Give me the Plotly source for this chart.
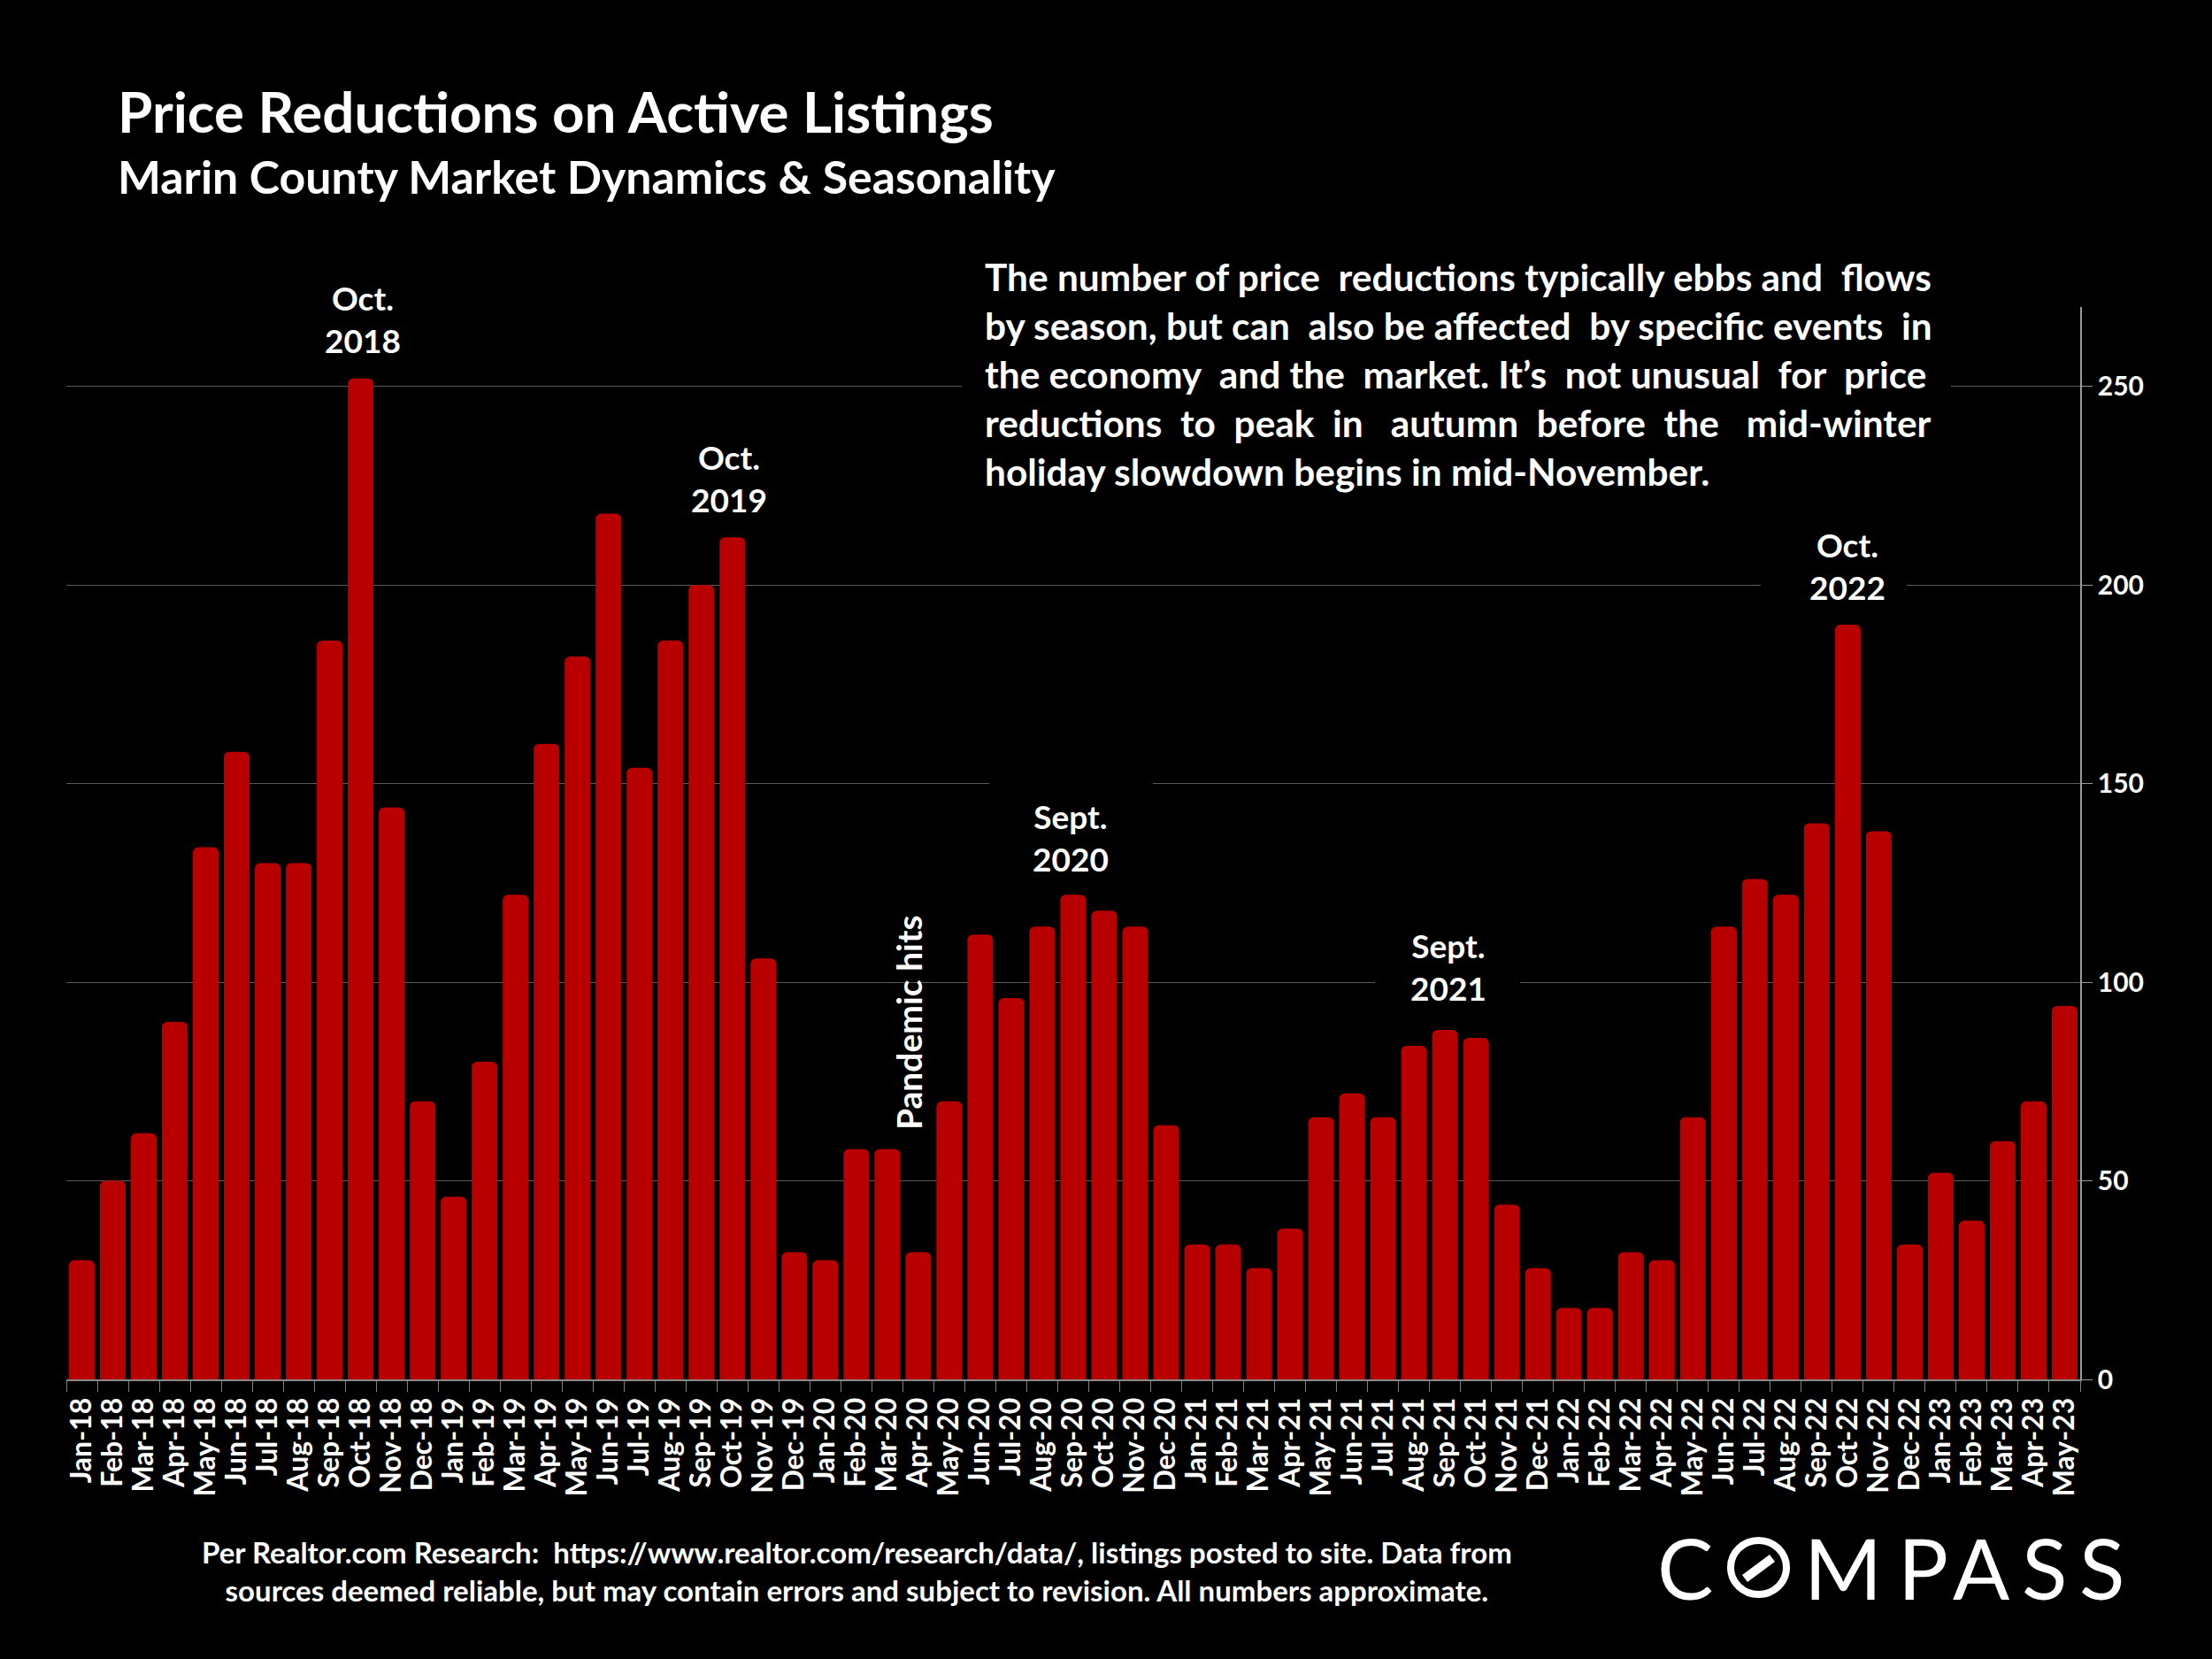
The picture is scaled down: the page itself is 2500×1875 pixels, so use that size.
import plotly.graph_objects as go

months = ["Jan", "Feb", "Mar", "Apr", "May", "Jun", "Jul", "Aug", "Sep", "Oct", "Nov", "Dec"]
categories = [f"{m}-{y}" for y in ["18", "19", "20", "21", "22"] for m in months]
categories += [f"{m}-23" for m in months[:5]]

price_reductions = [
    30, 50, 62, 90, 134, 158, 130, 130, 186, 252, 144, 70,
    46, 80, 122, 160, 182, 218, 154, 186, 200, 212, 106, 32,
    30, 58, 58, 32, 70, 112, 96, 114, 122, 118, 114, 64,
    34, 34, 28, 38, 66, 72, 66, 84, 88, 86, 44, 28,
    18, 18, 32, 30, 66, 114, 126, 122, 140, 190, 138, 34,
    52, 40, 60, 70, 94,
]
y_ticks = [0, 50, 100, 150, 200, 250]

# gridline value, left and right pixel of the part hidden behind text boxes
grid_gaps = [
    (250, 1087, 2205),
    (200, 1990, 2155),
    (150, 1118, 1303),
    (100, 1554, 1718),
]

note_lines = [
    ("The number of price reductions typically ebbs and flows", 2),
    ("by season, but can also be affected by specific events in", 3),
    ("the economy and the market. It’s not unusual for price", 5),
    ("reductions to peak in autumn before the mid-winter", 9),
    ("holiday slowdown begins in mid-November.", 0),
]

FONT = "Lato"
W, H = 2500, 1875
L, R, T, B = 75, 2351, 347, 1559


# pixel position on the page -> paper coords
def px(x):
    return (x - L) / (R - L)


def py(y):
    return (B - y) / (B - T)


# pixel -> position on the category axis, paper shapes can't go in the between layer
def cat_x(x):
    return px(x) * len(categories) - 0.5


# no justify in svg text, so pad the gaps with extra nbsp
def justify(line, extra):
    words = line.split(" ")
    gaps = len(words) - 1
    out = words[0]
    for i, word in enumerate(words[1:]):
        n = (extra * (i + 1)) // gaps - (extra * i) // gaps
        out += " " + "\u00a0" * n + word
    return out


fig = go.Figure(go.Bar(
    x=categories,
    y=price_reductions,
    marker=dict(color="#B80000", cornerradius=6, line_width=0),
))

fig.update_layout(
    width=W, height=H,
    margin=dict(l=L, r=W - R, t=T, b=H - B, pad=0),
    paper_bgcolor="black", plot_bgcolor="black",
    bargap=0.17, showlegend=False,
    font=dict(family=FONT, color="white"),
)
fig.update_xaxes(
    type="category", categoryorder="array", categoryarray=categories,
    tickmode="array", tickvals=categories, ticktext=categories,
    tickson="boundaries", tickangle=-90, ticks="outside", ticklen=12, tickwidth=1,
    ticklabelstandoff=6,
    tickcolor="#808080", showline=True, linecolor="#8a8a8a", linewidth=2, showgrid=False,
    tickfont=dict(family=FONT, size=32, color="white", weight=700),
)
fig.update_yaxes(
    side="right", range=[0, 270], tickmode="array", tickvals=y_ticks,
    ticks="outside", ticklen=12, tickwidth=1, tickcolor="#999999",
    showline=True, linecolor="#999999", linewidth=1.5,
    showgrid=True, gridcolor="#5a5a5a", gridwidth=1, zeroline=False,
    tickfont=dict(family=FONT, size=30, color="white", weight=700),
)

for value, x0, x1 in grid_gaps:
    fig.add_shape(type="rect", layer="between", xref="x", yref="y",
                  x0=cat_x(x0), x1=cat_x(x1), y0=value - 1, y1=value + 1,
                  fillcolor="black", line_width=0)


def label(text, x, y, size=37, angle=0, align="center", xanchor="center"):
    fig.add_annotation(
        text=text, xref="paper", yref="paper", x=px(x), y=py(y),
        xanchor=xanchor, yanchor="middle", align=align, showarrow=False,
        font=dict(family=FONT, size=size, color="white", weight=700),
        textangle=angle,
    )


label("Price Reductions on Active Listings", 131, 125, size=63.7, xanchor="left")
label("Marin County Market Dynamics &amp; Seasonality", 131, 199, size=51.8, xanchor="left")

label("Oct.<br>2018", 410, 360)
label("Oct.<br>2019", 824, 540)
label("Sept.<br>2020", 1210, 946)
label("Sept.<br>2021", 1637, 1092)
label("Oct.<br>2022", 2088, 639)
label("Pandemic hits", 1027, 1156, size=39, angle=-90)

label("<br>".join(justify(t, n) for t, n in note_lines), 1111, 422, size=42.4, align="left", xanchor="left")
label(
    "Per Realtor.com Research:  https://www.realtor.com/research/data/, listings posted to site. Data from<br>"
    "sources deemed reliable, but may contain errors and subject to revision. All numbers approximate.",
    968, 1775, size=33,
)

# logo, the O is a ring with a slash so it gets drawn as shapes
logo_letters = ["C", "M", "P", "A", "S", "S"]
logo_x = [1904, 2083, 2173, 2239, 2311, 2376]
for letter, x in zip(logo_letters, logo_x):
    fig.add_annotation(
        text=letter, xref="paper", yref="paper", x=px(x), y=py(1771),
        xanchor="center", yanchor="middle", showarrow=False,
        font=dict(family=FONT, size=95, color="white"),
    )
fig.add_shape(type="circle", xref="paper", yref="paper", x0=px(1956), x1=px(2019), y0=py(1802), y1=py(1741),
              line=dict(color="white", width=8))
fig.add_shape(type="line", xref="paper", yref="paper", x0=px(1972), x1=px(2003), y0=py(1784), y1=py(1761),
              line=dict(color="white", width=10))

fig.write_html("out.html", config=dict(displayModeBar=False), post_script="document.body.style.margin='0';")
